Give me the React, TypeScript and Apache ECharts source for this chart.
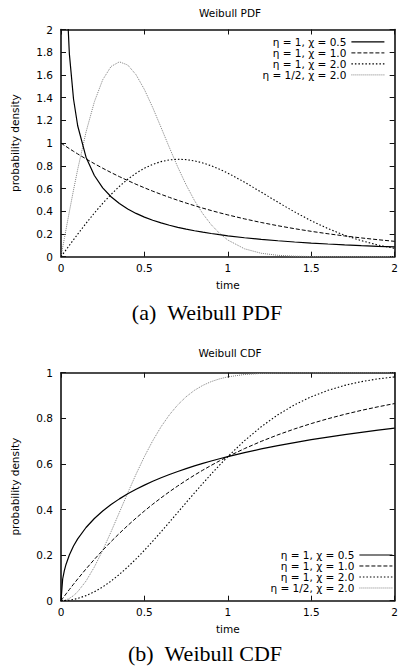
import React, { useEffect, useRef } from "react";
import * as echarts from "echarts";

const TIME = [0, 0.01, 0.02, 0.03, 0.05, 0.075, 0.1, 0.15, 0.2, 0.25, 0.3, 0.35, 0.4, 0.45, 0.5, 0.55, 0.6, 0.65, 0.7, 0.75, 0.8, 0.85, 0.9, 0.95, 1.0, 1.1, 1.2, 1.3, 1.4, 1.5, 1.6, 1.7, 1.8, 1.9, 2.0];

const SERIES_NAMES = ["η = 1, χ = 0.5", "η = 1, χ = 1.0", "η = 1, χ = 2.0", "η = 1/2, χ = 2.0"];

// PDF values
const PDF_A = [null, 4.524, 3.070, 2.428, 1.788, 1.388, 1.1525, 0.8765, 0.7149, 0.6065, 0.5279, 0.4677, 0.4200, 0.3811, 0.3487, 0.3212, 0.2975, 0.2769, 0.2588, 0.2428, 0.2285, 0.2157, 0.2041, 0.1935, 0.1839, 0.1670, 0.1526, 0.1402, 0.1294, 0.1199, 0.1116, 0.1041, 0.0974, 0.0914, 0.0860];
const PDF_B = [1, 0.9900, 0.9802, 0.9704, 0.9512, 0.9277, 0.9048, 0.8607, 0.8187, 0.7788, 0.7408, 0.7047, 0.6703, 0.6376, 0.6065, 0.5769, 0.5488, 0.5220, 0.4966, 0.4724, 0.4493, 0.4274, 0.4066, 0.3867, 0.3679, 0.3329, 0.3012, 0.2725, 0.2466, 0.2231, 0.2019, 0.1827, 0.1653, 0.1496, 0.1353];
const PDF_C = [0, 0.0200, 0.0400, 0.0599, 0.0998, 0.1492, 0.1980, 0.2933, 0.3843, 0.4697, 0.5483, 0.6193, 0.6817, 0.7350, 0.7788, 0.8129, 0.8372, 0.8520, 0.8576, 0.8547, 0.8437, 0.8255, 0.8008, 0.7706, 0.7358, 0.6560, 0.5686, 0.4797, 0.3945, 0.3162, 0.2474, 0.1890, 0.1411, 0.1030, 0.0733];
const PDF_D = [0, 0.0800, 0.1597, 0.2391, 0.3960, 0.5867, 0.7686, 1.0967, 1.3634, 1.5576, 1.6745, 1.7153, 1.6874, 1.6016, 1.4715, 1.3121, 1.1371, 0.9594, 0.7890, 0.6324, 0.4947, 0.3781, 0.2822, 0.2060, 0.1465, 0.0695, 0.0302, 0.0121, 0.0044, 0.0015, 0.0005, 0.0001, 0, 0, 0];

// CDF values
const CDF_A = [0, 0.0952, 0.1319, 0.1590, 0.2003, 0.2396, 0.2711, 0.3211, 0.3606, 0.3935, 0.4217, 0.4466, 0.4688, 0.4887, 0.5069, 0.5236, 0.5391, 0.5535, 0.5669, 0.5794, 0.5912, 0.6023, 0.6128, 0.6227, 0.6321, 0.6496, 0.6656, 0.6802, 0.6937, 0.7062, 0.7178, 0.7285, 0.7386, 0.7480, 0.7569];
const CDF_B = [0, 0.0100, 0.0198, 0.0296, 0.0488, 0.0723, 0.0952, 0.1393, 0.1813, 0.2212, 0.2592, 0.2953, 0.3297, 0.3624, 0.3935, 0.4231, 0.4512, 0.4780, 0.5034, 0.5276, 0.5507, 0.5726, 0.5934, 0.6133, 0.6321, 0.6671, 0.6988, 0.7275, 0.7534, 0.7769, 0.7981, 0.8173, 0.8347, 0.8504, 0.8647];
const CDF_C = [0, 0.0001, 0.0004, 0.0009, 0.0025, 0.0056, 0.0100, 0.0222, 0.0392, 0.0606, 0.0861, 0.1153, 0.1479, 0.1833, 0.2212, 0.2610, 0.3023, 0.3446, 0.3874, 0.4302, 0.4727, 0.5144, 0.5551, 0.5944, 0.6321, 0.7018, 0.7631, 0.8155, 0.8591, 0.8946, 0.9227, 0.9444, 0.9608, 0.9729, 0.9817];
const CDF_D = [0, 0.0004, 0.0016, 0.0036, 0.0100, 0.0222, 0.0392, 0.0861, 0.1479, 0.2212, 0.3023, 0.3874, 0.4727, 0.5551, 0.6321, 0.7018, 0.7631, 0.8155, 0.8591, 0.8946, 0.9227, 0.9444, 0.9608, 0.9729, 0.9817, 0.9921, 0.9969, 0.9988, 0.9996, 0.9999, 1, 1, 1, 1, 1];

const TITLES = ["Weibull PDF", "Weibull CDF"];
const CAPTIONS = ["(a)\u2002Weibull PDF", "(b)\u2002Weibull CDF"];
const X_NAME = "time";
const Y_NAME = "probability density";
const Y_MAX = [2, 1];

export default function App() {
  const ref = useRef<HTMLDivElement>(null);

  useEffect(() => {
    document.body.style.margin = "0";
    const chart = echarts.init(ref.current!, null, { renderer: "svg" });
    const font = "DejaVu Sans";
    const fs = 10.5;
    const txt = { fontFamily: font, fontSize: fs, color: "#000" };

    const lineStyles: any[] = [
      { color: "#000", width: 1.2, type: "solid" },
      { color: "#000", width: 1, type: [4, 2] },
      { color: "#000", width: 1.1, type: [1.5, 2] },
      { color: "#808080", width: 1, type: [1, 1] },
    ];

    const grids = [
      { left: 61, top: 29.5, width: 338.5, height: 227.2 },
      { left: 61, top: 372.7, width: 338.5, height: 228 },
    ];

    const frameLine = { show: true, onZero: false, lineStyle: { color: "#111", width: 1.6 } };
    const tick = { show: true, inside: true, length: 5, lineStyle: { color: "#111", width: 1 } };

    const xAxes: any[] = [];
    const yAxes: any[] = [];
    grids.forEach((_, i) => {
      xAxes.push({
        gridIndex: i, type: "value", min: 0, max: 2, interval: 0.5, position: "bottom",
        name: X_NAME, nameLocation: "middle", nameGap: 23, nameTextStyle: txt,
        axisLine: frameLine, axisTick: tick,
        axisLabel: { ...txt, margin: 6 }, splitLine: { show: false },
      });
      xAxes.push({
        gridIndex: i, type: "value", min: 0, max: 2, interval: 0.5, position: "top",
        axisLine: frameLine, axisTick: tick, axisLabel: { show: false }, splitLine: { show: false },
      });
      yAxes.push({
        gridIndex: i, type: "value", min: 0, max: Y_MAX[i], interval: 0.2, position: "left",
        name: Y_NAME, nameLocation: "middle", nameGap: 41, nameRotate: 90, nameTextStyle: txt,
        axisLine: frameLine, axisTick: tick,
        axisLabel: { ...txt, margin: 8 }, splitLine: { show: false },
      });
      yAxes.push({
        gridIndex: i, type: "value", min: 0, max: Y_MAX[i], interval: 0.2, position: "right",
        axisLine: frameLine, axisTick: tick, axisLabel: { show: false }, splitLine: { show: false },
      });
    });

    const pdf = [PDF_A, PDF_B, PDF_C, PDF_D];
    const cdf = [CDF_A, CDF_B, CDF_C, CDF_D];
    const series: any[] = [];
    [pdf, cdf].forEach((set, g) => {
      set.forEach((vals, k) => {
        series.push({
          type: "line",
          name: SERIES_NAMES[k],
          xAxisIndex: g * 2,
          yAxisIndex: g * 2,
          data: TIME.map((t, j) => [t, vals[j]]),
          symbol: "none",
          clip: true,
          smooth: false,
          lineStyle: lineStyles[k],
          itemStyle: { color: lineStyles[k].color },
          z: 10 - k,
        });
      });
    });

    const legendBase = {
      data: SERIES_NAMES,
      orient: "vertical",
      itemGap: 0,
      itemWidth: 33,
      align: "right",
      padding: 0,
      selectedMode: false,
      itemStyle: { opacity: 0 },
      lineStyle: { width: "inherit", type: "inherit", color: "inherit" },
    };

    chart.setOption({
      animation: false,
      backgroundColor: "#fff",
      title: [
        { text: TITLES[0], left: 230, top: 7, textAlign: "center", padding: 0, textStyle: { ...txt, fontWeight: "normal" } },
        { text: TITLES[1], left: 230, top: 347, textAlign: "center", padding: 0, textStyle: { ...txt, fontWeight: "normal" } },
      ],
      legend: [
        { ...legendBase, right: 16, top: 36.4, itemHeight: 10.7, textStyle: { ...txt, lineHeight: 10.7 } },
        { ...legendBase, right: 8, top: 549.5, itemHeight: 10.9, textStyle: { ...txt, lineHeight: 10.9 } },
      ],
      grid: grids,
      xAxis: xAxes,
      yAxis: yAxes,
      series,
      graphic: [
        {
          type: "text", x: 207, y: 312,
          style: { text: CAPTIONS[0], fontFamily: "Liberation Serif", fontSize: 22, fill: "#000", align: "center", verticalAlign: "middle" },
        },
        {
          type: "text", x: 205, y: 653,
          style: { text: CAPTIONS[1], fontFamily: "Liberation Serif", fontSize: 22, fill: "#000", align: "center", verticalAlign: "middle" },
        },
      ],
    });

    return () => chart.dispose();
  }, []);

  return <div ref={ref} style={{ width: 401, height: 668 }} />;
}
